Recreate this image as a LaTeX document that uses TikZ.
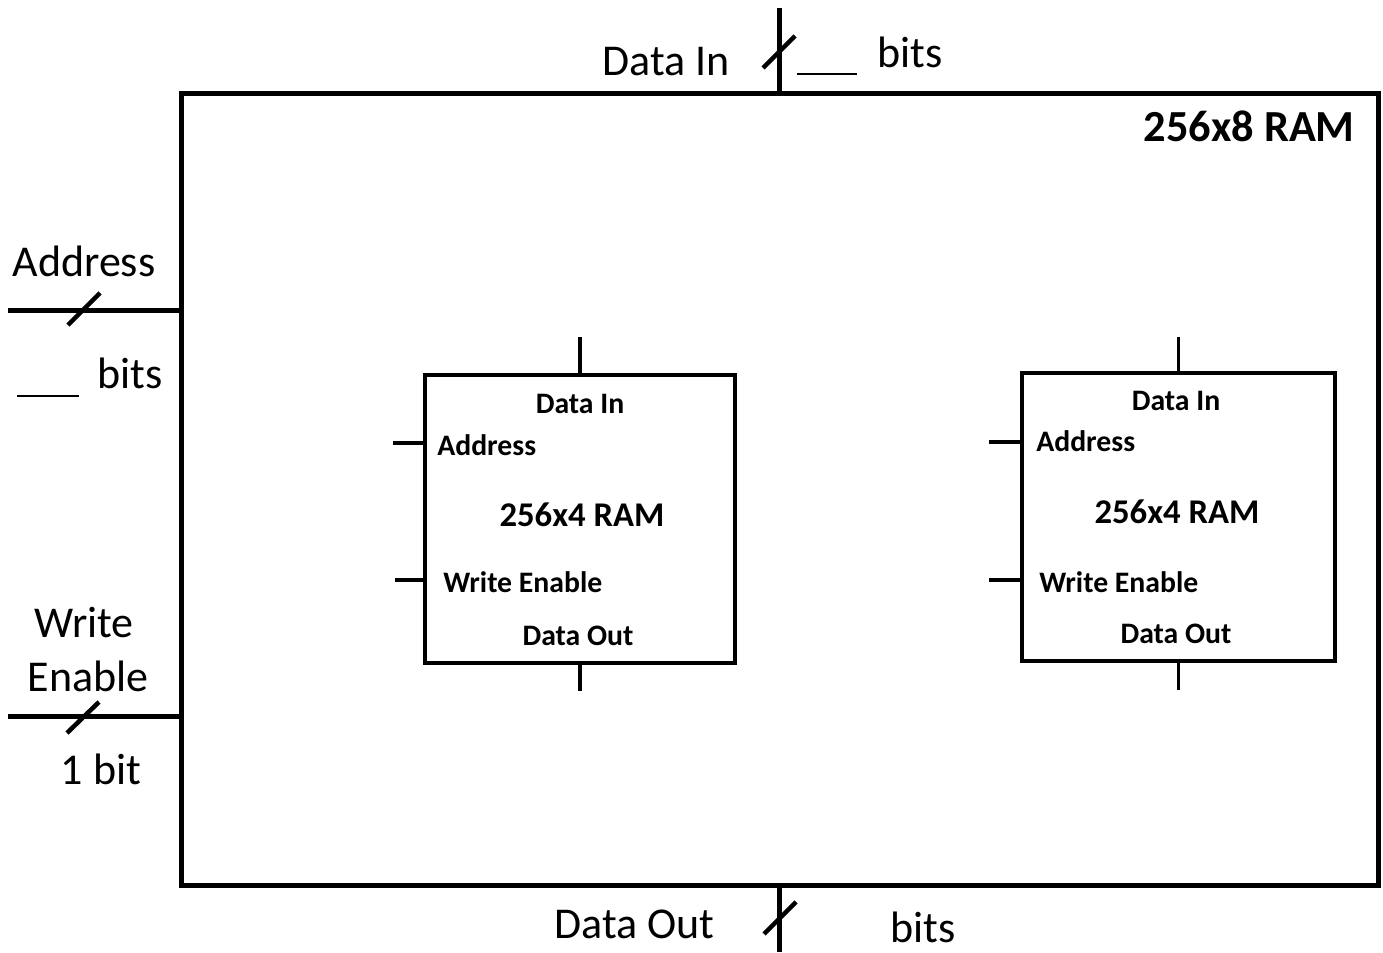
\documentclass[tikz,border=0pt]{standalone}
\usepackage{fontspec}
\setmainfont{Carlito}
\begin{document}
\begin{tikzpicture}[x=0.75pt,y=-0.75pt,
  outerbox/.style={draw,line width=3.75pt,inner sep=0pt,minimum width=897.75pt,minimum height=593.25pt},
  ramblock/.style={draw,line width=3pt,inner sep=0pt,minimum width=233pt,minimum height=216pt},
  bus/.style={line width=3.75pt},
  stub/.style={line width=2.4pt},
  slash/.style={line width=3.4pt},
  blank/.style={line width=1.2pt},
  lbl/.style={font=\fontsize{33}{38}\selectfont,inner sep=0pt,anchor=base},
  inlbl/.style={font=\bfseries\fontsize{22.3}{26}\selectfont,inner sep=0pt,anchor=base},
  title/.style={font=\bfseries\fontsize{26}{30}\selectfont,inner sep=0pt,anchor=base}]
\useasboundingbox (0,0) rectangle (1383,952);
% outer box
\node[outerbox] (ram8) at (779.5,489.5) {};
\node[font=\bfseries\fontsize{33.3}{38}\selectfont,inner sep=0pt,anchor=base east] (ram8t) at (1355,142) {256x8 RAM};
% external buses
\coordinate (dinT) at (779,8);
\coordinate (doutB) at (779,952);
\coordinate (addrL) at (8,310);
\coordinate (weL) at (8,716);
\draw[bus] (dinT) -- (ram8.north -| dinT);
\draw[bus] (ram8.south -| doutB) -- (doutB);
\draw[bus] (addrL) -- (addrL -| ram8.west);
\draw[bus] (weL) -- (weL -| ram8.west);
% slashes
\draw[slash] (763,68) -- (795,36);
\draw[slash] (764,934) -- (796,902);
\draw[slash] (68,325) -- (100,293);
\draw[slash] (67,733) -- (99,702);
% blanks
\draw[blank] (797,74) -- (857,74);
\draw[blank] (17,396) -- (79,396);
% external labels
\node[lbl] (dinl) at (666.5,76) {Data In};
\node[lbl,anchor=base west] (dinb) at (877,68) {bits};
\node[lbl] (addrl) at (84,276) {Address};
\node[lbl,anchor=base west] (addrb) at (97,388) {bits};
\node[lbl] (wel1) at (84,637) {Write};
\node[lbl] (wel2) at (88,691) {Enable};
\node[lbl] (web) at (101,784) {1 bit};
\node[lbl] (doutl) at (634.5,938) {Data Out};
\node[lbl,anchor=base west] (doutb) at (890,942) {bits};
% inner RAM 1
\node[ramblock] (r1) at (580,519) {};
\draw[stub] (r1.north) -- ++(0,-36);
\draw[stub] (r1.south) -- ++(0,26);
\draw[stub] (r1.west |- 0,443) -- ++(-30,0);
\draw[stub] (r1.west |- 0,580) -- ++(-28,0);
\node[inlbl] (r1di) at (580,413) {Data In};
\node[inlbl,anchor=base west] (r1ad) at (437,455) {Address};
\node[title] (r1t) at (582,526) {256x4 RAM};
\node[inlbl,anchor=base west] (r1we) at (443,592) {Write Enable};
\node[inlbl] (r1do) at (578,645) {Data Out};
% inner RAM 2
\node[ramblock,minimum width=235pt] (r2) at (1178.5,517) {};
\draw[stub] (r2.north) -- ++(0,-34);
\draw[stub] (r2.south) -- ++(0,27);
\draw[stub] (r2.west |- 0,442) -- ++(-31,0);
\draw[stub] (r2.west |- 0,580) -- ++(-31,0);
\node[inlbl] (r2di) at (1176,410) {Data In};
\node[inlbl,anchor=base west] (r2ad) at (1036,451) {Address};
\node[title] (r2t) at (1177,523) {256x4 RAM};
\node[inlbl,anchor=base west] (r2we) at (1039,592) {Write Enable};
\node[inlbl] (r2do) at (1176,643) {Data Out};
\end{tikzpicture}
\end{document}
